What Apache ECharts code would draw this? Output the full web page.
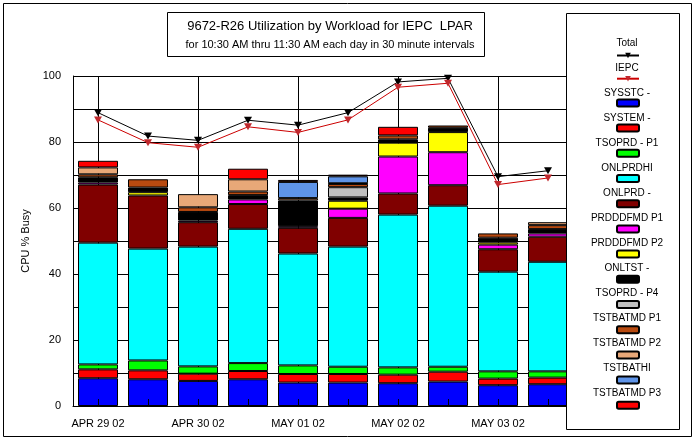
<!DOCTYPE html>
<html>
<head>
<meta charset="utf-8">
<script src="https://cdn.jsdelivr.net/npm/echarts@6/dist/echarts.min.js"></script>
<style>
html,body{margin:0;padding:0;background:#fff;}
#chart{width:696px;height:441px;}
</style>
</head>
<body>
<div id="chart"></div>
<script>
const categories = ['APR 29 02 10:30','APR 29 02 11:00','APR 30 02 10:30','APR 30 02 11:00','MAY 01 02 10:30','MAY 01 02 11:00','MAY 02 02 10:30','MAY 02 02 11:00','MAY 03 02 10:30','MAY 03 02 11:00'];
const yTicks = [0, 20, 40, 60, 80, 100];

const totalLine = [88.9, 81.8, 80.5, 86.6, 85.1, 88.9, 98.2, 99.3, 69.5, 71.3];
const iepcLine  = [86.7, 79.8, 78.4, 84.6, 82.9, 86.7, 96.6, 97.8, 67.1, 69.1];

const sysstc     = [8.4, 8.1, 7.6, 8.1, 7.1, 7.1, 6.9, 7.4, 6.3, 6.6];
const system     = [2.7, 2.7, 2.2, 2.5, 2.6, 2.6, 2.6, 3.0, 2.0, 2.0];
const tsoprdP1   = [1.5, 3.0, 2.2, 2.4, 2.6, 2.2, 2.2, 1.5, 2.2, 1.9];
const onlprdhi   = [36.9, 33.9, 36.3, 40.7, 33.9, 36.4, 46.3, 48.8, 30.2, 33.2];
const onlprd     = [17.6, 16.1, 7.4, 7.5, 7.8, 8.7, 6.4, 6.2, 6.8, 7.6];
const prdddfmdP1 = [0.6, 0, 0.5, 1.4, 0.5, 2.8, 11.2, 10.0, 1.4, 1.0];
const prdddfmdP2 = [0, 1.0, 0, 0, 0, 2.4, 4.2, 6.1, 0.7, 0];
const onltst     = [1.6, 1.4, 2.6, 1.3, 7.8, 1.0, 1.0, 1.3, 1.4, 1.3];
const tsoprdP4   = [0, 0, 0, 0, 0, 3.1, 0, 0, 0, 0];
const tstbatmdP1 = [0.9, 2.5, 1.4, 1.1, 0, 1.0, 1.2, 0.7, 1.3, 1.2];
const tstbatmdP2 = [2.1, 0, 4.0, 3.7, 0.7, 0.2, 0, 0, 0, 0.9];
const tstbathi   = [0, 0, 0, 0, 4.9, 2.1, 0, 0, 0, 0];
const tstbatmdP3 = [2.0, 0, 0, 3.2, 0.6, 0.5, 2.6, 0, 0, 0];

const barNames = ['SYSSTC -','SYSTEM -','TSOPRD - P1','ONLPRDHI','ONLPRD -','PRDDDFMD P1','PRDDDFMD P2','ONLTST -','TSOPRD - P4','TSTBATMD P1','TSTBATMD P2','TSTBATHI','TSTBATMD P3'];
const barData = [sysstc, system, tsoprdP1, onlprdhi, onlprd, prdddfmdP1, prdddfmdP2, onltst, tsoprdP4, tstbatmdP1, tstbatmdP2, tstbathi, tstbatmdP3];
const barColors = ['#0000ff','#ff0000','#00ff00','#00ffff','#800000','#ff00ff','#ffff00','#000000','#c0c0c0','#b84a10','#e8a878','#5f94e8','#ff0000'];

const FONT = '"Liberation Sans", Arial, sans-serif';
const tri = 'path://M0,0 L10,0 L5,9 Z';

const series = [
  {
    name: 'Total', type: 'line', data: totalLine, z: 5,
    symbol: tri, symbolSize: [8, 7], showSymbol: true,
    lineStyle: {color: '#000000', width: 1},
    itemStyle: {color: '#000000'}
  },
  {
    name: 'IEPC', type: 'line', data: iepcLine, z: 5,
    symbol: tri, symbolSize: [8, 7],
    lineStyle: {color: '#cc0000', width: 1},
    itemStyle: {color: '#c0282d'}
  }
];
barNames.forEach((n, i) => {
  series.push({
    name: n, type: 'bar', stack: 'cpu', data: barData[i].map(v => v === 0 ? null : v),
    barWidth: 40, z: 2,
    itemStyle: {color: barColors[i], borderColor: '#000000', borderWidth: 1}
  });
});

const legendNames = ['Total','IEPC'].concat(barNames);
const rich = {c: {width: 108, align: 'center', fontFamily: FONT, fontSize: 10, color: '#000', lineHeight: 10}};

const chart = echarts.init(document.getElementById('chart'), null, {renderer: 'canvas'});
chart.setOption({
  animation: false,
  backgroundColor: '#ffffff',
  title: {
    text: '9672-R26 Utilization by Workload for IEPC  LPAR',
    subtext: 'for 10:30 AM thru 11:30 AM each day in 30 minute intervals',
    left: 325, top: 15, textAlign: 'center', itemGap: 6, z: 10,
    textStyle: {fontFamily: FONT, fontSize: 13, fontWeight: 'normal', color: '#000'},
    subtextStyle: {fontFamily: FONT, fontSize: 11, color: '#000'}
  },
  graphic: [
    {type: 'rect', shape: {x: 3.5, y: 3.5, width: 688, height: 433}, style: {fill: null, stroke: '#000', lineWidth: 1}, z: 0, silent: true},
    {type: 'rect', shape: {x: 167.5, y: 12.5, width: 317, height: 44}, style: {fill: '#fff', stroke: '#000', lineWidth: 1}, z: 1, silent: true},
    {type: 'rect', shape: {x: 566.5, y: 13.5, width: 113, height: 416}, style: {fill: '#fff', stroke: '#000', lineWidth: 1}, z: 6, silent: true}
  ],
  legend: [
    {
      data: legendNames, orient: 'vertical', left: 611, top: 47, height: 392,
      itemWidth: 22, itemHeight: 7, itemGap: 16.2, z: 10,
      formatter: () => ' ',
      textStyle: {fontSize: 7, lineHeight: 7, fontFamily: FONT}
    },
    {
      data: legendNames, orient: 'vertical', left: 563, top: 33, height: 400,
      icon: 'none', itemWidth: 0, itemHeight: 0, itemGap: 15, z: 10,
      formatter: (n) => '{c|' + n + '}',
      textStyle: {fontSize: 10, lineHeight: 10, fontFamily: FONT, color: '#000', rich: rich}
    }
  ],
  grid: {left: 73, top: 76, width: 500, height: 330, containLabel: false},
  xAxis: [
    {
      type: 'category', data: categories, boundaryGap: true,
      axisLine: {show: true, lineStyle: {color: '#000', width: 1}},
      axisTick: {show: false},
      axisLabel: {interval: 1, formatter: (v) => v.slice(0, 9), color: '#000', fontFamily: FONT, fontSize: 11, margin: 12},
      splitLine: {show: true, interval: 1, alignWithLabel: true, lineStyle: {color: '#000', width: 1}}
    },
    {
      type: 'category', data: categories, boundaryGap: true, position: 'bottom', z: 8,
      axisLine: {show: false},
      axisTick: {show: true, inside: true, length: 7, alignWithLabel: true, interval: 0, lineStyle: {color: '#000'}},
      axisLabel: {show: false},
      splitLine: {show: false}
    }
  ],
  yAxis: {
    type: 'value', min: 0, max: 100, interval: 10,
    name: 'CPU % Busy', nameLocation: 'middle', nameGap: 37, nameRotate: 90,
    nameTextStyle: {fontFamily: FONT, fontSize: 11, color: '#000'},
    axisLine: {show: true, lineStyle: {color: '#000', width: 1}},
    axisTick: {show: false},
    axisLabel: {color: '#000', fontFamily: FONT, fontSize: 11, margin: 12,
      formatter: (v) => yTicks.indexOf(v) >= 0 ? String(v) : ''},
    splitLine: {show: true, lineStyle: {color: '#000', width: 1}}
  },
  series: series
});
</script>
</body>
</html>
